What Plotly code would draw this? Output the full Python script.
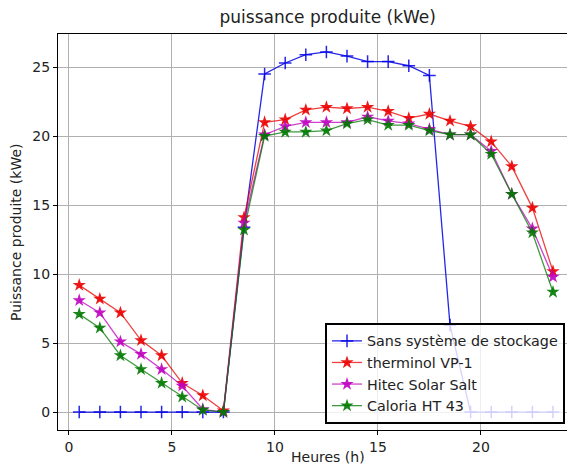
import plotly.graph_objects as go

heures = [0.5 + i for i in range(24)]
sans_stockage = [0, 0, 0, 0, 0, 0, 0, 0, 13.4, 24.5, 25.3, 25.9, 26.1, 25.8, 25.4, 25.4, 25.1, 24.4, 6.3, 0, 0, 0, 0, 0]
therminol = [9.2, 8.2, 7.2, 5.2, 4.1, 2.1, 1.2, 0.1, 14.1, 21.0, 21.2, 21.9, 22.1, 22.0, 22.1, 21.8, 21.3, 21.6, 21.1, 20.7, 19.6, 17.8, 14.8, 10.2]
hitec = [8.1, 7.2, 5.1, 4.2, 3.1, 1.9, 0.2, 0.0, 13.7, 20.1, 20.7, 21.0, 21.0, 21.0, 21.4, 21.1, 20.9, 20.5, 20.1, 20.1, 18.9, 15.8, 13.3, 9.8]
caloria = [7.1, 6.1, 4.1, 3.1, 2.1, 1.1, 0.15, 0.0, 13.2, 20.0, 20.3, 20.3, 20.4, 20.9, 21.2, 20.8, 20.8, 20.4, 20.1, 20.1, 18.7, 15.8, 13.0, 8.7]

noms = ["Sans système de stockage", "therminol VP-1", "Hitec Solar Salt", "Caloria HT 43"]
x_ticks = [0, 5, 10, 15, 20]
y_ticks = [0, 5, 10, 15, 20, 25]

fig = go.Figure()
fig.add_trace(go.Scatter(
    x=heures, y=sans_stockage, name=noms[0], mode="lines+markers", legendgroup="a",
    line=dict(color="rgba(0,0,230,0.85)", width=1.3),
    marker=dict(symbol="cross-thin", size=9, line=dict(color="rgba(0,0,230,0.85)", width=1.5)),
))
series = [(therminol, "rgba(235,0,0,0.75)", "rgba(235,0,0,0.9)"),
          (hitec, "rgba(191,0,191,0.75)", "rgba(191,0,191,0.9)"),
          (caloria, "rgba(0,120,0,0.75)", "rgba(0,120,0,0.9)")]
for i, ((vals, lc, mc), nom) in enumerate(zip(series, noms[1:])):
    fig.add_trace(go.Scatter(
        x=heures, y=vals, name=nom, mode="lines+markers", legendgroup="g%d" % i,
        line=dict(color=lc, width=1.3),
        marker=dict(symbol="star", size=10, color=mc, line=dict(width=0)),
    ))

fig.update_layout(
    width=567, height=464,
    margin=dict(l=58, r=0, t=34, b=34, autoexpand=False),
    paper_bgcolor="white", plot_bgcolor="white",
    font=dict(family="DejaVu Sans", size=14, color="#222"),
    title=dict(text="puissance produite (kWe)", x=0.53, xref="paper", xanchor="center",
               y=1 - 17 / 464, yref="container", yanchor="middle",
               font=dict(size=17, color="#222")),
    showlegend=True,
    legend=dict(x=0.5246, xanchor="left", y=0.27, yanchor="top",
                bgcolor="rgba(255,255,255,0.8)", bordercolor="black", borderwidth=2,
                font=dict(size=14.3, color="#222"), tracegroupgap=0),
    annotations=[
        dict(text="Heures (h)", x=0.53, xref="paper", y=-0.068, yref="paper",
             xanchor="center", yanchor="middle", showarrow=False,
             font=dict(size=14, color="#222")),
        dict(text="Puissance produite (kWe)", x=-0.0825, xref="paper", y=0.5, yref="paper",
             xanchor="center", yanchor="middle", textangle=-90, showarrow=False,
             font=dict(size=14, color="#222")),
    ],
)
fig.update_xaxes(
    range=[-0.53, 24.18], tickvals=x_ticks, ticktext=[str(v) for v in x_ticks],
    showgrid=True, gridcolor="#b0b0b0", gridwidth=1, zeroline=False,
    showline=True, linecolor="black", linewidth=1.2, mirror=True,
    ticks="outside", ticklen=4, tickcolor="black", automargin=False,
    tickfont=dict(size=14),
)
fig.update_yaxes(
    range=[-1.3, 27.4], tickvals=y_ticks, ticktext=[str(v) for v in y_ticks],
    showgrid=True, gridcolor="#b0b0b0", gridwidth=1, zeroline=False,
    showline=True, linecolor="black", linewidth=1.2, mirror=False,
    ticks="outside", ticklen=4, tickcolor="black", automargin=False,
    tickfont=dict(size=14),
)
fig.write_html("out.html", config={"displayModeBar": False},
               post_script="document.body.style.margin='0';document.body.style.overflow='hidden';")
